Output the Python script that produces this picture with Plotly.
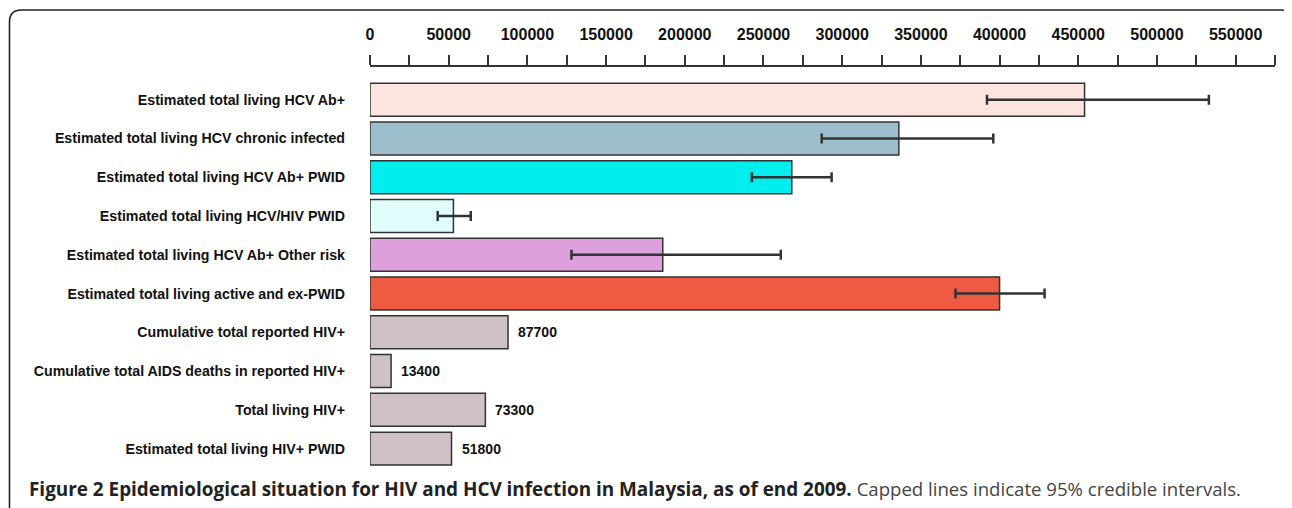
import plotly.graph_objects as go

# ---------------- data ----------------
categories = [
    "Estimated total living HCV Ab+",
    "Estimated total living HCV chronic infected",
    "Estimated total living HCV Ab+ PWID",
    "Estimated total living HCV/HIV PWID",
    "Estimated total living HCV Ab+ Other risk",
    "Estimated total living active and ex-PWID",
    "Cumulative total reported HIV+",
    "Cumulative total AIDS deaths in reported HIV+",
    "Total living HIV+",
    "Estimated total living HIV+ PWID",
]
values = [454000, 336000, 268000, 53000, 186000, 400000, 87700, 13400, 73300, 51800]
ci_low = [392000, 287000, 242600, 43000, 128000, 372000, None, None, None, None]
ci_high = [533000, 396000, 293300, 64000, 261000, 428600, None, None, None, None]
labelled_values = [None, None, None, None, None, None, 87700, 13400, 73300, 51800]
tick_values = [0, 50000, 100000, 150000, 200000, 250000, 300000, 350000,
               400000, 450000, 500000, 550000]
tick_labels = ["0", "50000", "100000", "150000", "200000", "250000", "300000",
               "350000", "400000", "450000", "500000", "550000"]
caption_bold = "Figure 2 Epidemiological situation for HIV and HCV infection in Malaysia, as of end 2009."
caption_text = "Capped lines indicate 95% credible intervals."

# ---------------- style ----------------
colors = ["#FEE4E1", "#9DBFCD", "#00EEEE", "#E0FEFE", "#DDA0DD", "#EE5B42",
          "#CEC2C6", "#CEC2C6", "#CEC2C6", "#CEC2C6"]
OFF = 8                      # default page body margin
W, H = 1292 - OFF, 508 - OFF
ML, MR, MT, MB = 370 - OFF, 17, 67 - OFF, 40
PW = W - ML - MR
PH = H - MT - MB


def px(x):
    return (x - OFF - ML) / PW


def py(y):
    return (H - MB - (y - OFF)) / PH


n_ci = sum(1 for v in ci_low if v is not None)
err_plus = [ci_high[i] - values[i] for i in range(n_ci)]
err_minus = [values[i] - ci_low[i] for i in range(n_ci)]

fig = go.Figure()
fig.add_trace(go.Bar(
    x=values[:n_ci], y=categories[:n_ci], orientation="h",
    marker=dict(color=colors[:n_ci], line=dict(color="#333333", width=1.5)),
    width=0.85,
    error_x=dict(type="data", symmetric=False, array=err_plus, arrayminus=err_minus,
                 color="#333333", thickness=2.5, width=5),
    hoverinfo="x+y", showlegend=False,
))
fig.add_trace(go.Bar(
    x=values[n_ci:], y=categories[n_ci:], orientation="h",
    marker=dict(color=colors[n_ci:], line=dict(color="#333333", width=1.5)),
    width=0.85, hoverinfo="x+y", showlegend=False,
))

for cat, v in zip(categories, labelled_values):
    if v is None:
        continue
    fig.add_annotation(x=v, y=cat, text="<b>%d</b>" % v, showarrow=False,
                       xanchor="left", yanchor="middle", xshift=8,
                       font=dict(family="Liberation Sans, Arial", size=14, color="#111111"))

fig.add_annotation(
    x=px(27), y=py(489), xref="paper", yref="paper", xanchor="left", yanchor="middle",
    showarrow=False,
    text=("<b>" + caption_bold + "</b> <span style='color:#444444;font-size:18.6px'>"
          + caption_text + "</span>"),
    font=dict(family="Open Sans", size=18.9, color="#222222"),
)

# frame (rounded top corners)
frame = ("M {a},{b} L {a},{c} Q {a},{d} {e},{d} L {f},{d} Q {g},{d} {g},{h}".format(
    a=px(9.5), b=py(520), c=py(22), d=py(10), e=px(21.5), f=px(1281), g=px(1291.5), h=py(21)))
fig.add_shape(type="path", path=frame, xref="paper", yref="paper",
              line=dict(color="#222222", width=1.6))

fig.update_layout(
    width=W, height=H, margin=dict(l=ML, r=MR, t=MT, b=MB),
    paper_bgcolor="white", plot_bgcolor="white",
    barmode="overlay", showlegend=False,
    xaxis=dict(
        side="top", range=[0, 575000], showgrid=False, zeroline=False,
        showline=True, linecolor="#333333", linewidth=1.5,
        tickvals=tick_values, ticktext=tick_labels,
        ticks="outside", ticklen=10, tickwidth=1.5, tickcolor="#333333",
        minor=dict(dtick=25000, tick0=0, ticks="outside", ticklen=10, tickwidth=1.5,
                   tickcolor="#333333", showgrid=False),
        ticklabelstandoff=9,
        tickfont=dict(family="Liberation Sans, Arial", size=16, color="#111111", weight="bold"),
    ),
    yaxis=dict(
        type="category", categoryorder="array", categoryarray=categories,
        range=[9.5, -0.843], showgrid=False, zeroline=False, showline=False,
        ticks="", ticklabelstandoff=24,
        tickfont=dict(family="Liberation Sans, Arial", size=14.2, color="#111111", weight="bold"),
    ),
)

fig.write_html("out.html")
